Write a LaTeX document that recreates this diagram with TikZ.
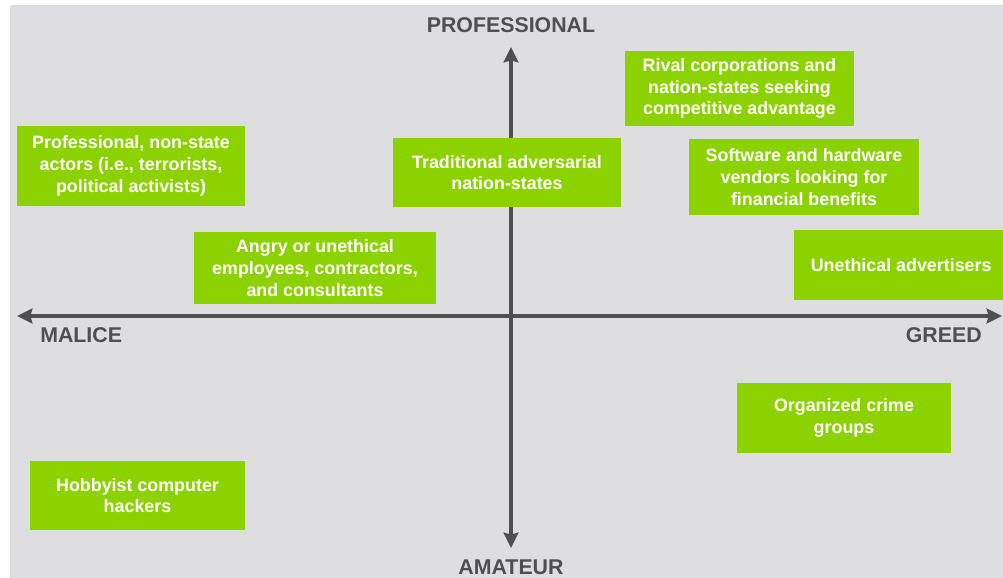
\documentclass[tikz,border=0pt]{standalone}
\usepackage{fontspec}
\setmainfont{Liberation Sans}
\usetikzlibrary{arrows.meta}
\definecolor{panel}{HTML}{DEDEE0}
\definecolor{boxgreen}{HTML}{8CD200}
\definecolor{axisgrey}{HTML}{4F4F51}
\tikzset{
  quad/.style={fill=boxgreen, inner sep=0pt, align=center, text=white,
    font=\fontsize{13.4pt}{16.3pt}\selectfont\bfseries},
  axislabel/.style={inner sep=0pt, text=axisgrey,
    font=\fontsize{16pt}{19pt}\selectfont\bfseries},
  axisline/.style={draw=axisgrey, line width=2.6pt,
    arrows={Stealth[length=11.5pt, width=11pt, inset=1.5pt]-Stealth[length=11.5pt, width=11pt, inset=1.5pt]}}
}
\begin{document}
\begin{tikzpicture}[x=0.75pt, y=-0.75pt]
  \useasboundingbox (0,0) rectangle (1003,578);
  \fill[white] (0,0) rectangle (1003,578);
  \fill[panel] (10,5) rectangle (1003,578);

  % axes
  \coordinate (L) at (17,316);
  \coordinate (R) at (1002,316);
  \coordinate (T) at (511,47);
  \coordinate (B) at (511,548);
  \draw[axisline] (L) -- (R);
  \draw[axisline] (B) -- (T);

  % axis labels
  \node[axislabel, anchor=base] (pro) at (511,32) {PROFESSIONAL};
  \node[axislabel, anchor=base] (ama) at (511,574) {AMATEUR};
  \node[axislabel, anchor=base west] (mal) at (40,342) {MALICE};
  \node[axislabel, anchor=base east] (gre) at (982,342) {GREED};

  % boxes
  \node[quad, minimum width={228*0.75pt}, minimum height={80*0.75pt}] (pns) at (131,166)
    {Professional, non-state\\actors (i.e., terrorists,\\political activists)};
  \node[quad, minimum width={242*0.75pt}, minimum height={72*0.75pt}] (ang) at (315,268)
    {Angry or unethical\\employees, contractors,\\and consultants};
  \node[quad, minimum width={228*0.75pt}, minimum height={69*0.75pt}] (tra) at (507,172.5)
    {Traditional adversarial\\nation-states};
  \node[quad, minimum width={229*0.75pt}, minimum height={75*0.75pt}] (riv) at (739.5,88.5)
    {Rival corporations and\\nation-states seeking\\competitive advantage};
  \node[quad, minimum width={230*0.75pt}, minimum height={76*0.75pt}] (sof) at (804,177)
    {Software and hardware\\vendors looking for\\financial benefits};
  \node[quad, minimum width={209*0.75pt}, minimum height={70*0.75pt}] (adv) at (898.5,265)
    {\hspace*{4pt}Unethical advertisers};
  \node[quad, minimum width={214*0.75pt}, minimum height={70*0.75pt}] (org) at (844,418)
    {Organized crime\\groups};
  \node[quad, minimum width={215*0.75pt}, minimum height={69*0.75pt}] (hob) at (137.5,495.5)
    {Hobbyist computer\\hackers};
\end{tikzpicture}
\end{document}
